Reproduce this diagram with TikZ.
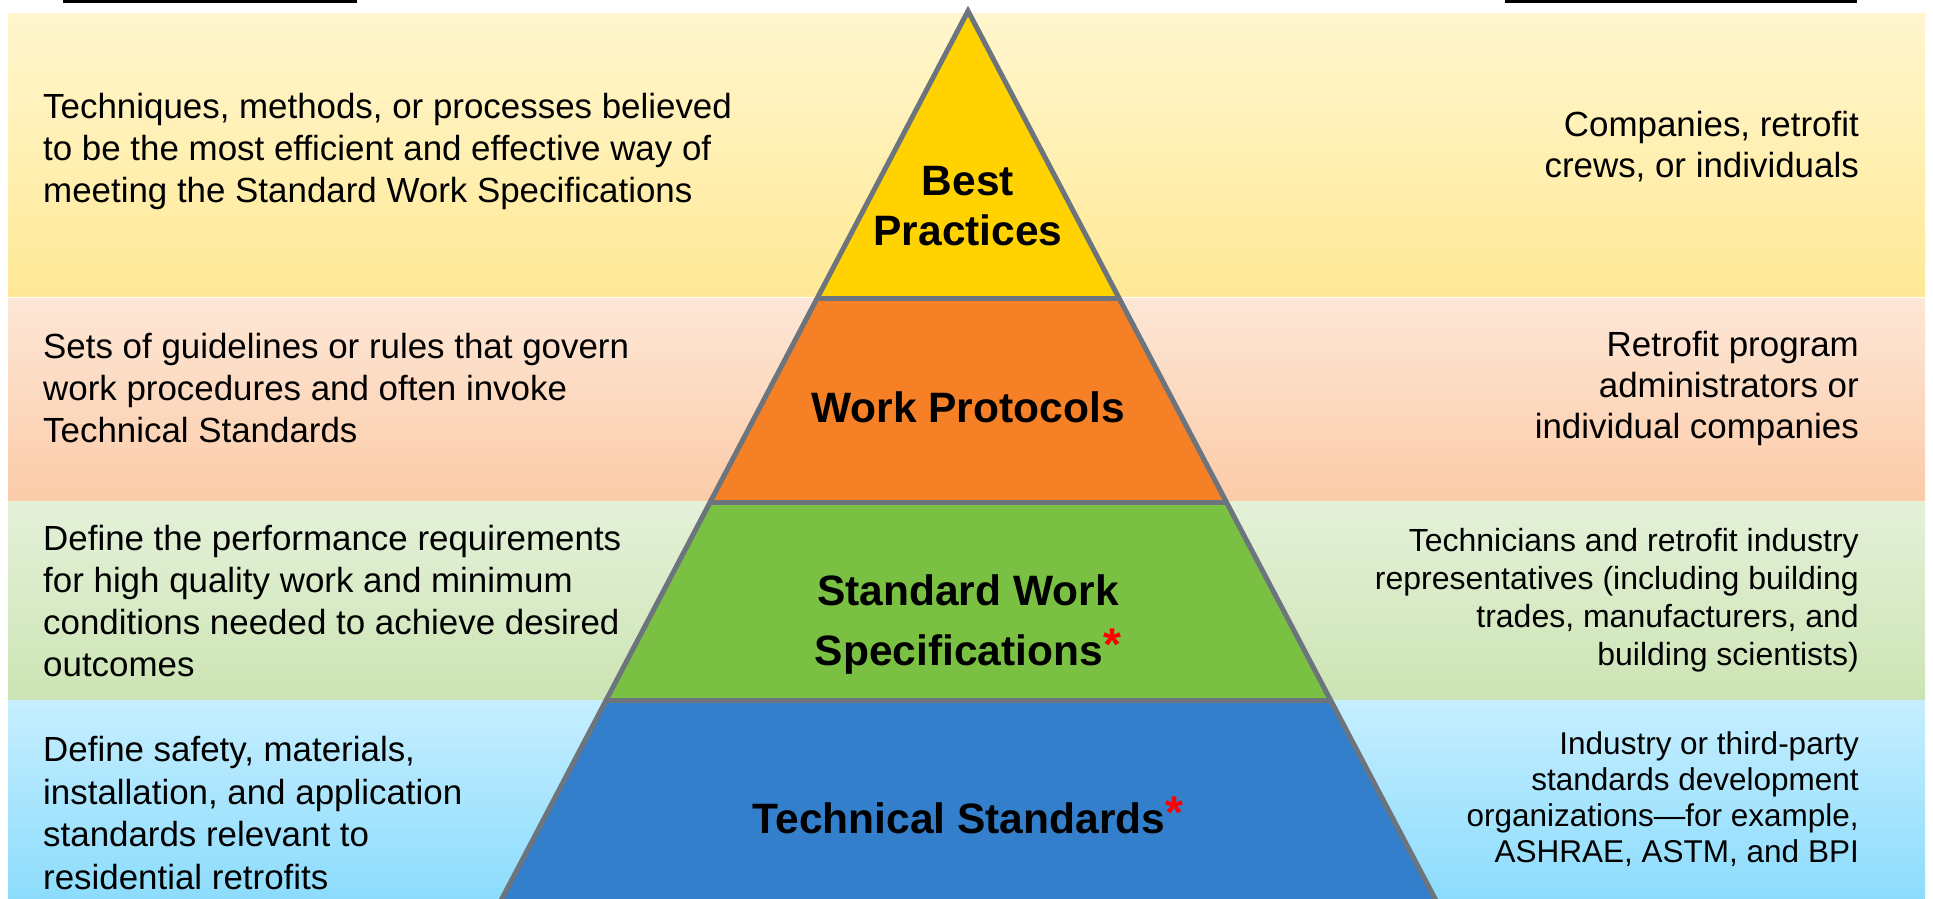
\documentclass[tikz,border=0pt]{standalone}
\usepackage{fontspec}
\setmainfont{Liberation Sans}
\usetikzlibrary{calc}
\definecolor{yTop}{RGB}{255,246,206}
\definecolor{yBot}{RGB}{255,233,150}
\definecolor{pTop}{RGB}{253,231,214}
\definecolor{pBot}{RGB}{251,203,168}
\definecolor{gTop}{RGB}{228,241,217}
\definecolor{gBot}{RGB}{204,228,180}
\definecolor{bTop}{RGB}{198,238,255}
\definecolor{bBot}{RGB}{140,220,252}
\definecolor{pyrY}{RGB}{255,210,0}
\definecolor{pyrO}{RGB}{245,128,38}
\definecolor{pyrG}{RGB}{122,193,67}
\definecolor{pyrB}{RGB}{51,127,204}
\definecolor{pyrEdge}{RGB}{108,117,125}
\tikzset{
  lefttext/.style={anchor=west, align=left, inner sep=0pt, font=\fontsize{34.9}{42}\selectfont},
  righttext/.style={anchor=east, align=right, inner sep=0pt, font=\fontsize{34.9}{41}\selectfont},
  rightsmall/.style={anchor=east, align=right, inner sep=0pt, font=\fontsize{32}{38}\selectfont},
  layerlabel/.style={align=center, inner sep=0pt, font=\bfseries\fontsize{42.5}{50}\selectfont},
  edge/.style={draw=pyrEdge, line width=5pt},
}
\newcommand{\redstar}{{\color{red}\raisebox{0.12em}{\fontsize{46}{46}\selectfont *}}}
\begin{document}
\begin{tikzpicture}[x=1pt,y=-1pt]
\useasboundingbox (0,0) rectangle (1933,899);
\clip (0,0) rectangle (1933,899);
% bands
\shade[top color=yTop, bottom color=yBot] (8,14) rectangle (1925,296);
\shade[top color=pTop, bottom color=pBot] (8,298) rectangle (1925,501);
\shade[top color=gTop, bottom color=gBot] (8,501) rectangle (1925,700);
\shade[top color=bTop, bottom color=bBot] (8,700) rectangle (1925,899);
% top rules
\fill[black] (63,0) rectangle (357,3);
\fill[black] (1505,0) rectangle (1857,3);
% pyramid
\coordinate (apex) at (968,11);
\coordinate (bl) at (496,910);
\coordinate (br) at (1441,910);
\coordinate (l1) at ($(apex)!0.3196!(bl)$);
\coordinate (r1) at ($(apex)!0.3196!(br)$);
\coordinate (l2) at ($(apex)!0.5462!(bl)$);
\coordinate (r2) at ($(apex)!0.5462!(br)$);
\coordinate (l3) at ($(apex)!0.7664!(bl)$);
\coordinate (r3) at ($(apex)!0.7664!(br)$);
\fill[pyrY] (apex) -- (r1) -- (l1) -- cycle;
\fill[pyrO] (l1) -- (r1) -- (r2) -- (l2) -- cycle;
\fill[pyrG] (l2) -- (r2) -- (r3) -- (l3) -- cycle;
\fill[pyrB] (l3) -- (r3) -- (br) -- (bl) -- cycle;
\draw[edge, line join=miter] (bl) -- (apex) -- (br);
\draw[edge] (l1) -- (r1);
\draw[edge] (l2) -- (r2);
\draw[edge] (l3) -- (r3);
% layer labels
\node[layerlabel] (lab1) at (968,206) {Best\\Practices};
\node[layerlabel, font=\bfseries\fontsize{42.5}{60}\selectfont] (lab2) at (968,407) {Work Protocols};
\node[layerlabel, font=\bfseries\fontsize{42.5}{60}\selectfont] (lab3) at (968,625) {Standard Work\\Specifications\redstar};
\node[layerlabel] (lab4) at (968,815) {Technical Standards\redstar};
% left texts
\node[lefttext] (d1) at (43,151) {Techniques, methods, or processes believed\\to be the most efficient and effective way of\\meeting the Standard Work Specifications};
\node[lefttext] (d2) at (43,388) {Sets of guidelines or rules that govern\\work procedures and often invoke\\Technical Standards};
\node[lefttext] (d3) at (43,601) {Define the performance requirements\\for high quality work and minimum\\conditions needed to achieve desired\\outcomes};
\node[lefttext, font=\fontsize{34.9}{42.5}\selectfont] (d4) at (43,813) {Define safety, materials,\\installation, and application\\standards relevant to\\residential retrofits};
% right texts
\node[righttext] (w1) at (1859,147) {Companies, retrofit\\crews, or individuals};
\node[righttext] (w2) at (1859,388) {Retrofit program\\administrators or\\individual companies};
\node[rightsmall] (w3) at (1859,600) {Technicians and retrofit industry\\representatives (including building\\trades, manufacturers, and\\building scientists)};
\node[rightsmall, font=\fontsize{31.5}{36}\selectfont] (w4) at (1859,799) {Industry or third-party\\standards development\\organizations---for example,\\ASHRAE, ASTM, and BPI};
\end{tikzpicture}
\end{document}
